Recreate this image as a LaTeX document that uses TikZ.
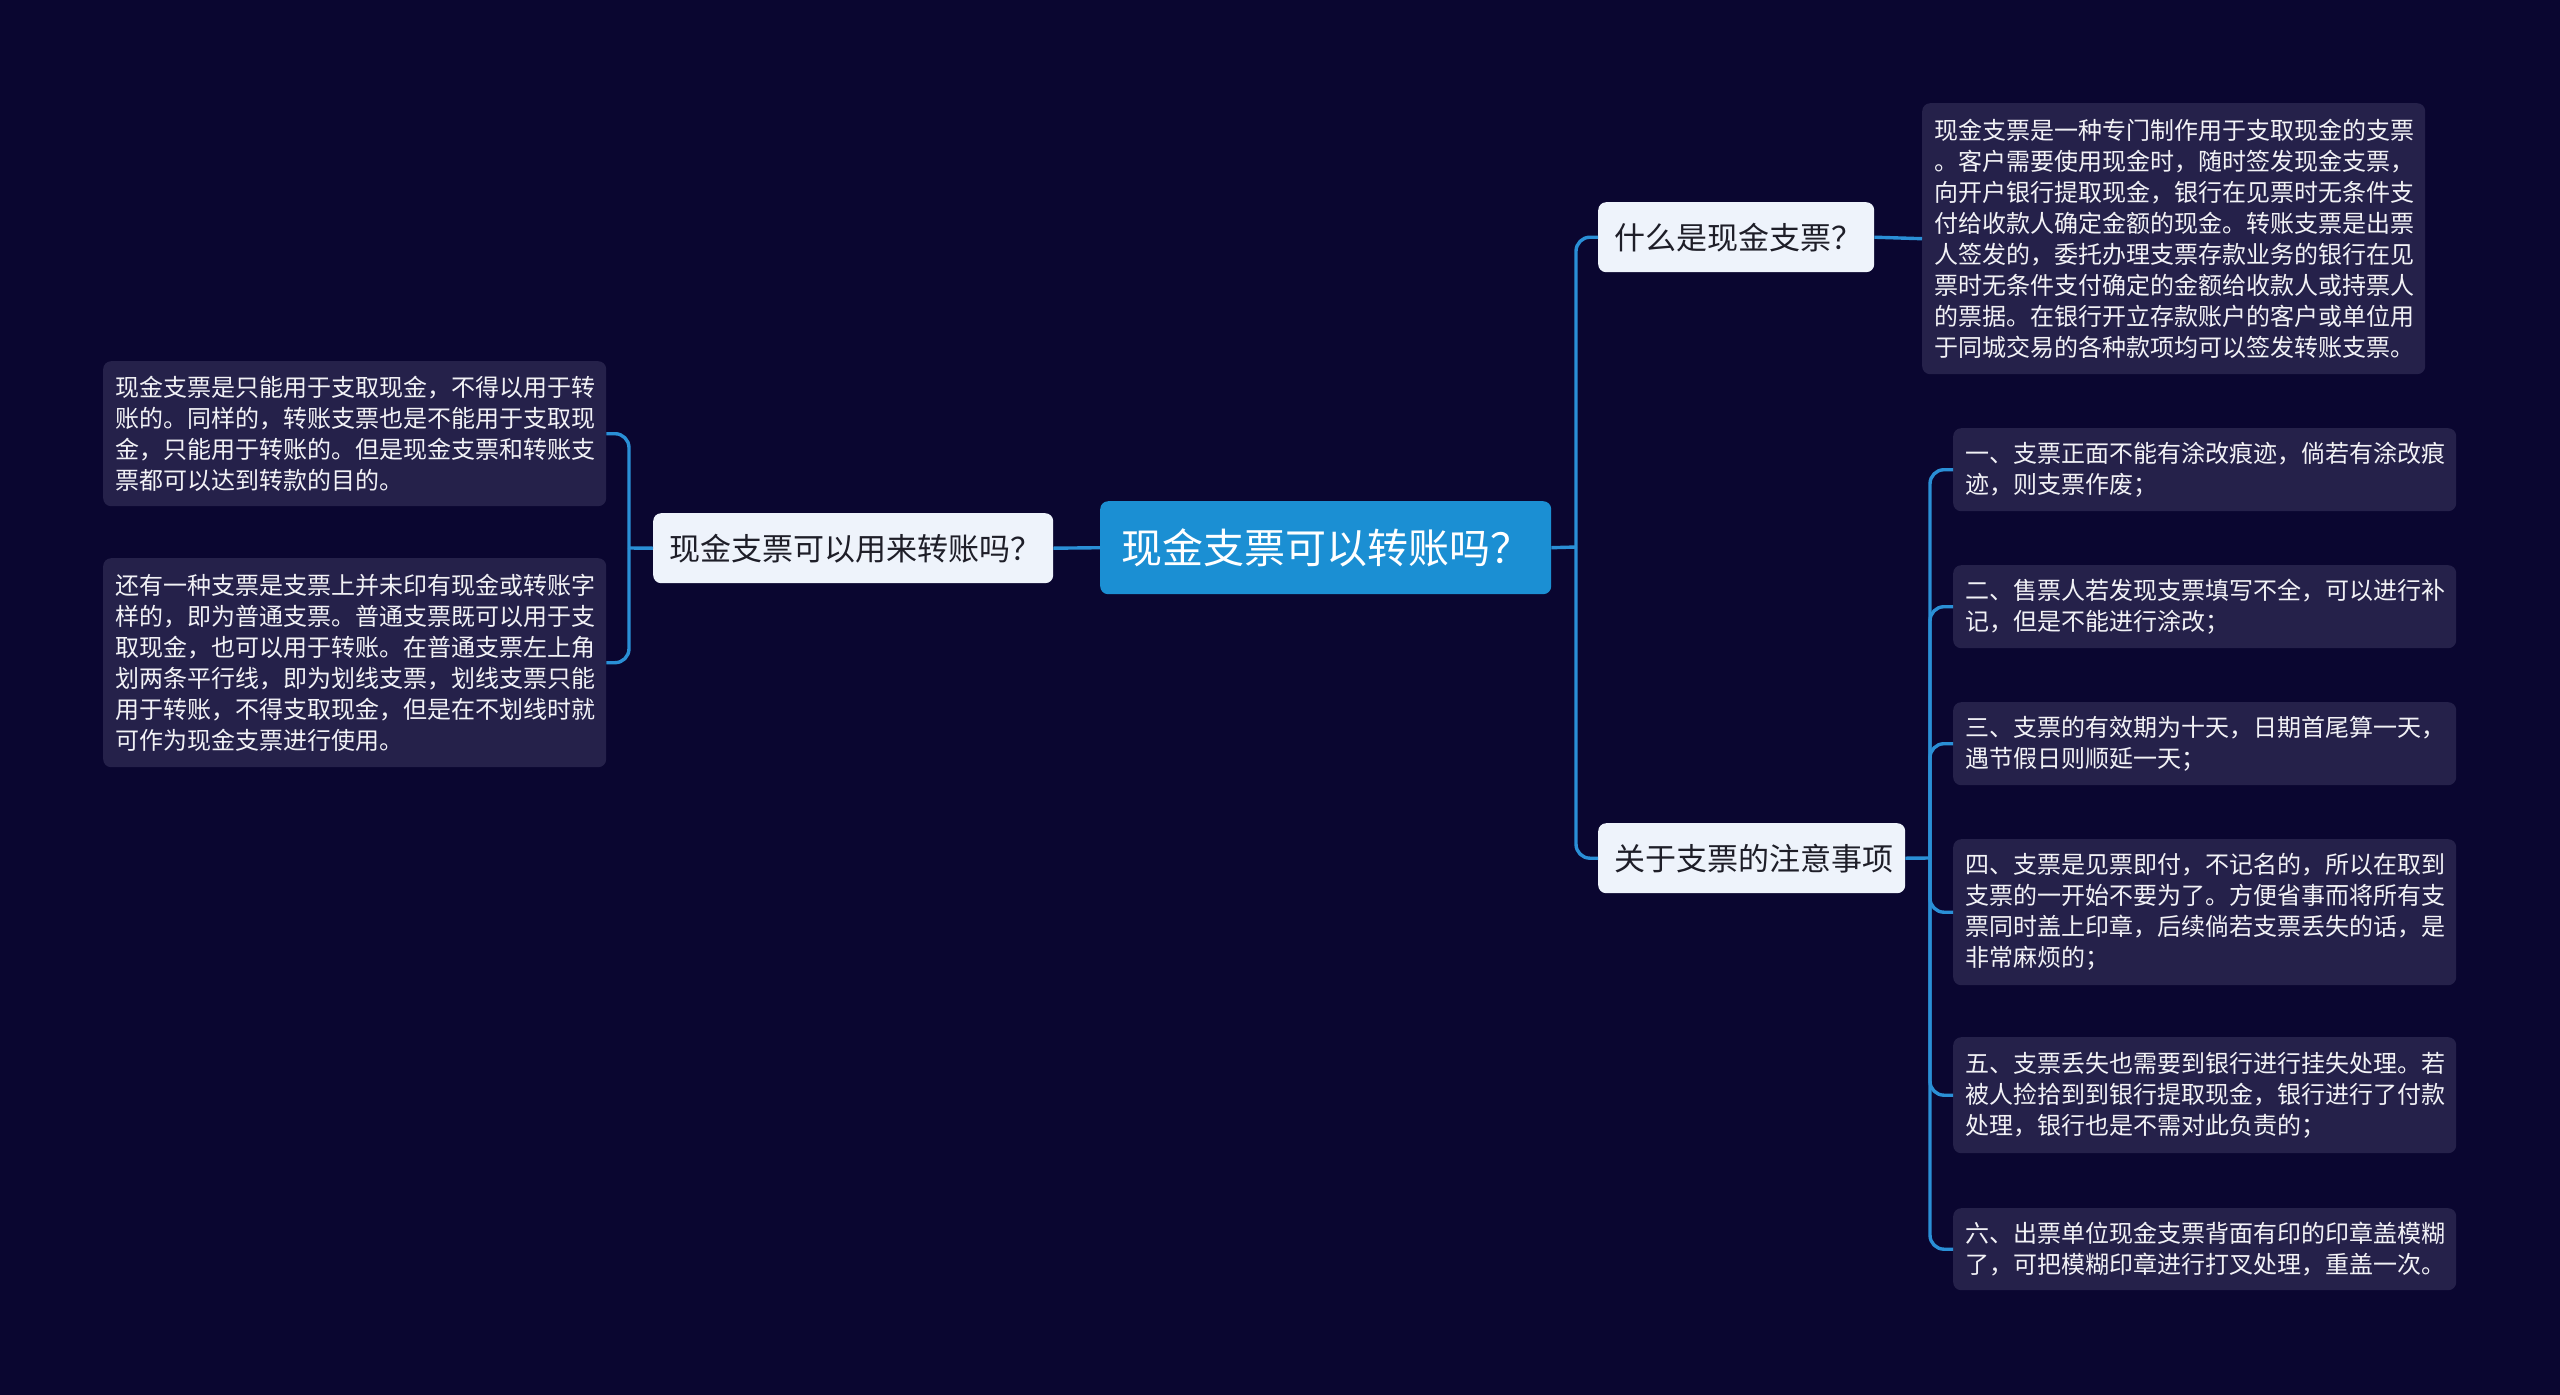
\documentclass[tikz,border=0pt]{standalone}
\usepackage{fontspec}
\setmainfont{Noto Sans CJK SC}
\definecolor{bgc}{HTML}{0A0630}
\definecolor{leafc}{HTML}{25214A}
\definecolor{linec}{HTML}{2A8FD6}
\definecolor{rootc}{HTML}{1B8FD3}
\definecolor{subc}{HTML}{EEF3FB}
\definecolor{subtext}{HTML}{1E1E28}
\definecolor{leaftext}{HTML}{F2F2F6}
\begin{document}
\begin{tikzpicture}[x=1pt,y=-1pt]
\tikzset{
  leaf/.style={fill=leafc, rounded corners=8pt, text=leaftext, inner xsep=12pt, inner ysep=0pt,
    text width=479pt, align=left, font=\fontsize{24}{31}\selectfont, anchor=north west},
  sub/.style={fill=subc, rounded corners=8pt, text=subtext, inner xsep=16pt, inner ysep=0pt,
    align=left, font=\fontsize{31}{36}\selectfont, anchor=north west, minimum height=70pt},
  root/.style={fill=rootc, rounded corners=8pt, text=white, inner xsep=21pt, inner ysep=0pt,
    align=left, font=\fontsize{41}{46}\selectfont, anchor=north west, minimum height=93pt},
  conn/.style={draw=linec, line width=3.4pt, rounded corners=14pt}
}
\fill[bgc] (0,0) rectangle (2560,1395);
\useasboundingbox (0,0) rectangle (2560,1395);

% root
\node[root, text width=409pt] (c) at (1100,501) {现金支票可以转账吗？};

% left branch
\node[sub, text width=368pt] (l) at (653,513) {现金支票可以用来转账吗？};
\node[leaf, minimum height=145pt] (l1) at (103,361) {现金支票是只能用于支取现金，不得以用于转\\账的。同样的，转账支票也是不能用于支取现\\金，只能用于转账的。但是现金支票和转账支\\票都可以达到转款的目的。};
\node[leaf, minimum height=209pt] (l2) at (103,558) {还有一种支票是支票上并未印有现金或转账字\\样的，即为普通支票。普通支票既可以用于支\\取现金，也可以用于转账。在普通支票左上角\\划两条平行线，即为划线支票，划线支票只能\\用于转账，不得支取现金，但是在不划线时就\\可作为现金支票进行使用。};

% right branch
\node[sub, text width=244pt] (ra) at (1598,202) {什么是现金支票？};
\node[sub, text width=275pt] (rb) at (1598,823) {关于支票的注意事项};
\node[leaf, minimum height=271pt] (rt) at (1922,103) {现金支票是一种专门制作用于支取现金的支票\\。客户需要使用现金时，随时签发现金支票，\\向开户银行提取现金，银行在见票时无条件支\\付给收款人确定金额的现金。转账支票是出票\\人签发的，委托办理支票存款业务的银行在见\\票时无条件支付确定的金额给收款人或持票人\\的票据。在银行开立存款账户的客户或单位用\\于同城交易的各种款项均可以签发转账支票。};

\node[leaf, minimum height=83pt] (r1) at (1953,428) {一、支票正面不能有涂改痕迹，倘若有涂改痕\\迹，则支票作废；};
\node[leaf, minimum height=83pt] (r2) at (1953,565) {二、售票人若发现支票填写不全，可以进行补\\记，但是不能进行涂改；};
\node[leaf, minimum height=83pt] (r3) at (1953,702) {三、支票的有效期为十天，日期首尾算一天，\\遇节假日则顺延一天；};
\node[leaf, minimum height=146pt] (r4) at (1953,839) {四、支票是见票即付，不记名的，所以在取到\\支票的一开始不要为了。方便省事而将所有支\\票同时盖上印章，后续倘若支票丢失的话，是\\非常麻烦的；};
\node[leaf, minimum height=116pt] (r5) at (1953,1037) {五、支票丢失也需要到银行进行挂失处理。若\\被人捡拾到到银行提取现金，银行进行了付款\\处理，银行也是不需对此负责的；};
\node[leaf, minimum height=82pt] (r6) at (1953,1208) {六、出票单位现金支票背面有印的印章盖模糊\\了，可把模糊印章进行打叉处理，重盖一次。};

% connectors
\coordinate (sL) at (629,548);
\coordinate (sR) at (1576,547);
\coordinate (sB) at (1930,858);

\draw[conn] (c.west) -- (l.east);
\draw[conn] (l.west) -- (sL);
\draw[conn] (sL) |- (l1.east);
\draw[conn] (sL) |- (l2.east);

\draw[conn] (c.east) -- (sR);
\draw[conn] (sR) |- (ra.west);
\draw[conn] (sR) |- (rb.west);
\draw[conn] (ra.east) -- (rt.west);

\draw[conn] (rb.east) -- (sB);
\foreach \n in {r1,r2,r3,r4,r5,r6} {
  \draw[conn] (sB) |- (\n.west);
}
\end{tikzpicture}
\end{document}
